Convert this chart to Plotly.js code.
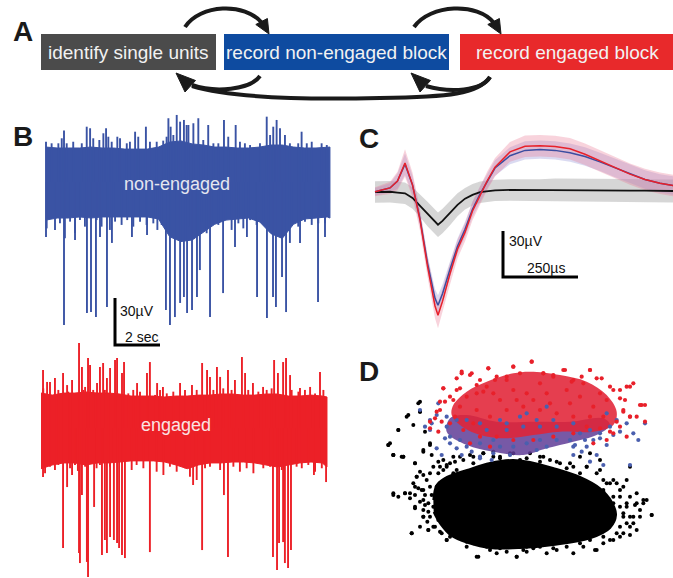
<!DOCTYPE html>
<html><head><meta charset="utf-8">
<script src="https://cdn.plot.ly/plotly-3.0.1.min.js"></script>
<style>html,body{margin:0;padding:0;background:#fff}#chart{width:673px;height:578px}</style>
</head><body><div id="chart"></div>
<script>
// ================= DATA =================
// Panel A: workflow steps
const steps = ["identify single units", "record non-engaged block", "record engaged block"];
const stepColors = ["#4b4b4b", "#0e4ba0", "#e8292b"];

// Panel B: envelope of the raw trace (time in s, voltage in µV)
const envT = [0,0.5,1,1.5,2,2.5,3,3.5,4,4.5,5,5.5,6,6.5,7,7.5,8,8.5,9,9.5,10,10.5,11,11.5,12,12.5];
const blueEndT = 12.62;
const redEndT = 12.71;
const blueTop = [22.3,21.7,21.7,21.7,22.3,21.7,21.7,21.0,21.0,21.0,22.3,25.5,26.2,24.3,23.6,22.3,22.3,21.7,21.7,22.3,23.6,23.6,22.3,21.7,21.7,22.3,22.3];
const blueBot = [-24.3,-23.0,-23.0,-22.3,-23.0,-22.3,-22.3,-22.3,-22.3,-22.3,-23.6,-35.0,-38.0,-37.0,-32.0,-27.0,-24.3,-23.6,-23.0,-25.5,-33.0,-36.0,-27.0,-23.6,-23.0,-22.3,-23.0];
const redTop = [22.3,21.0,22.3,22.3,23.0,22.3,22.3,21.7,20.4,20.4,20.4,19.8,20.4,20.4,21.0,21.0,21.7,21.7,21.0,21.0,21.7,21.7,20.4,20.4,21.0,20.4,19.8];
const redBot = [-26.0,-23.6,-22.3,-22.3,-23.6,-22.3,-22.3,-21.7,-21.0,-21.0,-21.0,-21.7,-23.6,-26.0,-23.6,-22.3,-22.3,-21.7,-21.7,-22.3,-23.6,-24.9,-23.6,-22.3,-21.7,-22.3,-24.9];

// Panel B: spikes (time s, peak µV)
const blueDownT = [0,0.8,1.29,1.82,2.0,2.22,2.4,2.71,2.93,3.82,4.49,5.33,5.51,5.73,5.96,6.13,6.27,6.49,6.71,6.84,7.29,7.87,8.4,8.93,9.38,9.82,10.09,10.22,10.49,10.67,10.84,11.29,12.09,12.4];
const blueDownV = [-35.1,-91.3,-32.6,-83.6,-83.0,-86.2,-35.1,-79.8,-38.9,-35.1,-33.8,-81.7,-91.3,-86.2,-77.2,-73.4,-83.6,-81.7,-73.4,-56.2,-86.2,-70.9,-41.5,-35.1,-73.4,-86.8,-73.4,-79.8,-60.6,-83.0,-38.9,-38.9,-76.6,-35.1];
const blueHairDownT = [0.03,0.40,0.62,0.84,1.07,1.29,1.51,1.73,2.25,2.47,2.84,3.07,3.36,3.61,3.88,4.18,4.47,4.77,4.95,5.14,6.33,6.62,6.92,7.14,7.36,7.66,7.96,8.25,8.55,8.77,9.07,9.36,9.66,9.88,10.62,10.92,11.21,11.51,11.81,12.10,12.40];
const blueHairDownV = [-29.6,-30.6,-26.4,-35.9,-25.3,-37.0,-24.3,-28.5,-24.3,-28.5,-30.6,-25.3,-27.4,-24.3,-28.5,-25.3,-27.4,-26.4,-30.6,-27.4,-28.5,-30.6,-25.3,-32.7,-24.3,-27.4,-24.3,-30.6,-26.4,-29.6,-24.3,-27.4,-24.3,-28.5,-28.5,-25.3,-28.5,-25.3,-27.4,-26.4,-26.4];
const blueUpT = [0.0,0.25,0.55,0.70,0.80,0.92,1.21,1.59,1.81,1.96,2.10,2.37,2.55,2.67,2.77,2.92,3.17,3.29,3.59,3.73,3.96,4.10,4.44,4.62,4.92,5.21,5.36,5.44,5.54,5.66,5.81,5.96,6.13,6.25,6.33,6.55,6.77,6.99,7.21,7.44,7.66,7.91,8.10,8.43,8.62,8.84,9.07,9.51,9.81,9.96,10.10,10.25,10.40,10.62,10.84,11.21,11.36,11.59,11.81,12.25,12.48];
const blueUpV = [25.7,24.7,24.7,27.9,32.8,24.7,25.7,24.7,35.3,34.3,27.9,26.8,31.1,34.3,28.9,25.7,28.9,27.9,24.7,25.7,32.1,28.9,35.3,25.7,25.7,26.4,28.9,40.7,35.3,30.0,42.8,38.5,39.6,36.4,36.4,37.5,40.7,26.8,36.4,24.7,24.7,39.6,28.9,36.4,25.7,24.7,23.6,24.7,41.7,30.0,35.3,39.6,34.3,30.0,24.7,24.7,32.1,24.7,25.7,24.7,23.6];
const redDownT = [0.09,0.98,1.16,1.38,1.64,1.69,1.73,1.82,2.04,2.09,2.36,2.71,2.84,2.93,3.07,3.24,3.38,3.47,3.6,3.73,4.84,6.76,7.16,8.13,8.31,10.31,10.49,10.58,10.76,10.84,10.98,11.11,12.13,12.67];
const redDownV = [-31.3,-76.6,-37.7,-30.0,-27.4,-79.8,-86.2,-42.8,-85.5,-95.1,-50.4,-81.1,-71.5,-79.8,-69.6,-71.5,-73.4,-76.6,-81.1,-83.0,-79.2,-36.4,-77.9,-42.8,-82.3,-82.3,-90.6,-73.4,-72.8,-86.2,-89.4,-77.9,-30.0,-34.5];
const redHairDownT = [0.18,0.40,0.62,0.77,1.29,1.51,1.96,2.47,2.62,3.07,4.03,4.25,4.55,5.14,5.44,5.73,6.03,6.40,6.62,6.92,7.29,7.51,7.96,8.55,8.84,9.14,9.44,9.88,10.18,10.70,11.36,11.59,11.88,12.18,12.48];
const redHairDownV = [-28.9,-24.7,-26.8,-23.6,-25.7,-23.6,-24.7,-25.7,-23.6,-24.7,-26.8,-23.6,-25.7,-27.9,-30.0,-24.7,-27.9,-25.7,-31.1,-33.2,-25.7,-24.7,-26.8,-24.7,-27.9,-25.7,-28.9,-25.7,-24.7,-26.8,-24.7,-25.7,-23.6,-27.9,-25.7];
const redUpT = [0.09,0.27,0.4,0.62,0.98,1.16,1.38,1.69,1.82,1.96,2.09,2.18,2.49,2.62,2.76,2.93,3.07,3.29,3.38,3.6,3.69,4.27,4.71,4.84,5.16,5.42,6.18,6.71,7.16,7.38,7.51,7.82,7.96,8.31,8.62,8.93,9.07,9.42,9.87,10.36,10.53,10.76,10.89,11.07,11.51,11.96,12.4];
const redUpV = [37.0,29.4,29.4,31.9,35.1,27.4,30.6,54.3,38.9,26.2,44.7,40.2,28.7,38.9,41.5,31.9,38.3,43.4,44.7,35.1,42.1,28.7,35.1,42.1,28.7,26.2,28.7,27.4,41.5,37.0,32.6,38.9,32.6,37.0,30.6,45.3,35.1,28.7,26.2,43.4,35.1,42.1,44.7,33.8,25.5,26.2,35.7];
const redHairUpT = [0.10,0.77,1.21,1.88,2.32,2.84,3.88,4.10,4.40,5.07,5.29,5.59,5.88,6.40,6.92,7.66,8.10,8.47,9.21,9.66,10.03,10.25,11.14,11.44,11.73,12.18,12.55];
const redHairUpV = [25.3,24.3,23.2,24.3,24.3,24.3,22.1,24.3,23.2,21.1,24.3,22.1,23.2,24.3,24.3,24.3,25.3,24.3,24.3,23.2,24.3,25.3,24.3,23.2,24.3,22.1,24.3];

// Panel C: mean waveforms (time µs, µV) and their spread
const wfT = [0,50,75,100,125,150,175,200,210,225,250,275,300,325,350,375,400,450,500,550,600,650,700,750,800,850,900,950,995];
const wfRed = [-0.5,2.0,6.5,18.3,4.0,-18.9,-49,-75,-81,-72,-54,-38,-27,-13,-3,7,15.5,25.5,29.2,29.5,29.0,27.5,24,19.5,15,11,7.5,5,3.5];
const wfBlue = [-0.5,2.0,6.5,17.5,4.0,-18,-47,-70,-74.5,-67,-51,-36,-25,-12,-2,7,15,23,26.5,27,26.5,25,22.5,19,15,11,7.5,5,3.5];
const wfBlack = [-0.7,-0.5,-1,-1.5,-4.5,-9.5,-15,-20,-22,-19.5,-14.4,-9,-5,-2.5,-0.8,0,0.4,0.7,0.7,0.7,0.7,0.7,0.6,0.5,0.4,0.3,0.2,0.1,0];
const sdRed = [3,4,6,9,8,7,7,8,8.5,8,7,6,6,6,6,6,6,6.5,7,7,7,7,7,7,7,7,7,7,7];
const sdBlue = [2.5,3,5,7,6,5,5,6,6.5,6,5,5,5,5,5,5,5,5.5,6,6,6,6,6,6,6,6,6,6,6];
const sdBlack = [7,7,7,7,7,7.5,8,8,8,8,8,7.5,7,7,7,7,7,7,7,7,7.5,7.5,7.5,7.5,7.5,7.5,7.5,7.5,7.5];

// Panel D: feature space clusters (arbitrary units)
const noiseCoreX = [280,290,321,381,450,519,570,639,720,780,815,828,810,750,639,540,450,385,335,300,281];
const noiseCoreY = [220,265,289,310,331,340,334,316,289,255,215,175,136,105,85,76,76,91,112,150,184];
const noiseX = [145,160,190,175,205,240,240,215,265,160,195,210,250,230,270,300,330,360,390,430,460,520,560,610,650,700,740,780,820,850,870,890,910,935,900,870,850,820,770,700,620,530,500,410,380,320,280,250,240,880,860,890,470,560,440,330,290,250,225,870,840,800,255,265,285,245,225,275,300,340,400,480,540,600,680,720,790,820,850,860,840,790,730,650,580,480,400,330,300,262,
  150,160,190,225,250,270,240,250,230,220,235,225,240,225,250,270,285,305,215,160,175,195,210,415,530,260,270,255,265,280,250,295,280,320,350,310,370,400,430,340,460,480,510,320,380,450,510,550,265,295,
  690,720,740,770,790,810,830,840,860,870,890,910,920,935,900,880,860,840,820,840,870,830,810,790,765,720,680,640,600,560,790,820,815,800,780,750,850,885,660,630,600,570,780,750,
  175,145,160,185,225,200,220,240,235,255,250,270,275,295,320,310,345];
const noiseY = [385,355,350,430,475,515,485,120,130,235,240,225,250,290,300,320,330,350,355,360,350,360,345,350,335,320,320,310,280,260,230,210,220,175,170,140,120,100,70,60,60,50,65,50,80,100,140,170,140,150,200,130,60,65,80,280,260,220,200,170,230,270,205,185,200,250,260,235,270,300,330,345,340,335,315,300,250,210,180,150,110,90,80,70,75,75,90,110,125,155,
  390,355,350,330,370,385,305,295,290,270,255,235,215,195,190,170,140,120,120,240,230,240,240,50,50,280,260,235,210,200,170,300,320,325,310,340,340,350,360,350,365,350,360,100,95,70,80,70,130,160,
  330,350,320,300,280,270,270,250,280,320,240,210,220,175,190,170,210,200,160,140,115,120,100,110,70,90,80,75,80,80,245,230,190,170,130,100,170,205,330,340,350,360,340,360,
  430,385,355,350,330,470,445,485,510,425,365,390,355,335,320,310,335];
const unitRedCoreX = [340,380,440,520,570,660,740,800,830,820,760,660,580,500,420,360,335,340];
const unitRedCoreY = [505,545,575,600,605,595,575,535,485,445,425,425,415,405,415,445,475,505];
const unitBlueCoreX = [320,380,460,550,620,700,770,810,790,690,590,470,380,330,320];
const unitBlueCoreY = [425,385,365,355,375,395,415,445,465,455,455,455,475,465,425];
const engagedX = [445,520,575,610,670,750,770,820,860,880,905,915,870,850,840,820,300,290,310,350,365,395,420,440,470,500,540,600,640,700,730,780,800,330,345,370,270,380,410,460,520,560,620,680,720,760,790,740,700,640,580,520,470,420,400,450,500,550,600,650,700,750,480,530,580,630,690,410,360,340,860,800,760,450,390,
  310,350,365,390,445,465,500,520,300,315,330,360,410,430,285,305,295,270,610,675,750,785,810,840,870,900,915,870,890,850,830,810,780,840,855,725,695,640,575];
const engagedY = [615,620,635,600,610,610,585,550,560,570,505,455,470,490,440,420,515,485,555,550,600,600,580,560,590,580,600,570,590,580,570,540,520,450,470,430,455,530,540,540,550,540,540,550,530,500,470,440,420,410,400,400,410,410,450,470,490,500,490,480,470,470,520,520,520,510,510,490,500,520,410,400,390,380,390,
  555,585,605,595,615,580,590,620,490,515,530,555,565,545,465,455,425,435,600,610,610,585,560,550,560,505,505,470,470,485,455,425,435,525,520,590,575,595,635];
const nonEngX = [320,350,330,360,380,420,460,480,520,560,600,620,650,690,720,750,780,810,830,440,500,550,600,650,700,480,540,590,640,420,380,460,510,590,700,735,800,620,560,500,240,270,860,880,420,
  295,290,275,315,330,350,365,395,420,455,290,305,255,270,320,800,780,760,740,725,705,820,770,700,750,790,870,915,895,840];
const nonEngY = [470,460,410,400,380,390,400,380,380,390,400,380,400,400,420,430,420,440,460,430,430,440,440,440,450,460,470,460,460,450,460,360,355,370,380,400,480,500,480,450,490,430,450,420,350,
  510,475,450,405,390,375,355,365,345,340,375,355,440,460,440,385,405,400,380,365,385,415,355,355,335,325,325,450,400,425];

// ================= BUILD =================
const W = 673, H = 578;
const FONT = "Liberation Sans, Arial, Helvetica, sans-serif";
const dx = (a, b) => [a / W, b / W];
const dy = (top, bot) => [1 - bot / H, 1 - top / H];
const pxX = x => x / W, pxY = y => 1 - y / H;

function band(T, top, bot) {
  return { x: T.concat(T.slice().reverse()), y: top.concat(bot.slice().reverse()) };
}
function spikes(ts, vs) {
  const x = [], y = [];
  ts.forEach((t, i) => { x.push(t, t, null); y.push(0, vs[i], null); });
  return { x, y };
}
const BLUE = "#3a53a4", RED = "#ec2027";
const traces = [];
traces.push({ x: [0], y: [0], xaxis: "x", yaxis: "y", mode: "markers", marker: { opacity: 0 }, hoverinfo: "skip" });

function addTrace(T, top, bot, lists, ax, ay, color) {
  const b = band(T, top, bot);
  traces.push({ x: b.x, y: b.y, xaxis: ax, yaxis: ay, mode: "lines", fill: "toself", fillcolor: color, line: { color: color, width: 1 } });
  lists.forEach(l => {
    const s = spikes(l[0], l[1]);
    traces.push({ x: s.x, y: s.y, xaxis: ax, yaxis: ay, mode: "lines", line: { color: color, width: l[2] } });
  });
}
// Panel B
addTrace(envT.concat([blueEndT]), blueTop, blueBot,
  [[blueHairDownT, blueHairDownV, 1.9], [blueUpT, blueUpV, 1.9], [blueDownT, blueDownV, 1.9]], "x2", "y2", BLUE);
addTrace(envT.concat([redEndT]), redTop, redBot,
  [[redHairDownT, redHairDownV, 1.9], [redHairUpT, redHairUpV, 1.9], [redUpT, redUpV, 1.9], [redDownT, redDownV, 1.9]], "x3", "y3", RED);

// Panel C
function sdBand(m, sd, sign) { return m.map((v, i) => v + sign * sd[i]); }
const gB = band(wfT, sdBand(wfBlack, sdBlack, 1), sdBand(wfBlack, sdBlack, -1));
traces.push({ x: gB.x, y: gB.y, xaxis: "x4", yaxis: "y4", mode: "lines", fill: "toself", fillcolor: "rgba(200,200,200,0.75)", line: { width: 0 } });
const lB = band(wfT, sdBand(wfBlue, sdBlue, 1), sdBand(wfBlue, sdBlue, -1));
traces.push({ x: lB.x, y: lB.y, xaxis: "x4", yaxis: "y4", mode: "lines", fill: "toself", fillcolor: "rgba(150,150,215,0.35)", line: { width: 0 } });
const pB = band(wfT, sdBand(wfRed, sdRed, 1), sdBand(wfRed, sdRed, -1));
traces.push({ x: pB.x, y: pB.y, xaxis: "x4", yaxis: "y4", mode: "lines", fill: "toself", fillcolor: "rgba(235,120,150,0.33)", line: { width: 0 } });
traces.push({ x: wfT, y: wfBlack, xaxis: "x4", yaxis: "y4", mode: "lines", line: { color: "#111", width: 1.8 } });
traces.push({ x: wfT, y: wfBlue, xaxis: "x4", yaxis: "y4", mode: "lines", line: { color: "#3b4da0", width: 1.5 } });
traces.push({ x: wfT, y: wfRed, xaxis: "x4", yaxis: "y4", mode: "lines", line: { color: "#e8202a", width: 1.5 } });

// Panel D
traces.push({ x: noiseCoreX, y: noiseCoreY, xaxis: "x5", yaxis: "y5", mode: "lines", fill: "toself", fillcolor: "#000", line: { color: "#000", width: 2, shape: "spline" } });
traces.push({ x: noiseX, y: noiseY, xaxis: "x5", yaxis: "y5", mode: "markers", marker: { color: "#000", size: 4 } });
traces.push({ x: unitBlueCoreX, y: unitBlueCoreY, xaxis: "x5", yaxis: "y5", mode: "lines", fill: "toself", fillcolor: "rgba(95,60,150,0.85)", line: { width: 0, shape: "spline" } });
traces.push({ x: unitRedCoreX, y: unitRedCoreY, xaxis: "x5", yaxis: "y5", mode: "lines", fill: "toself", fillcolor: "rgba(225,35,55,0.88)", line: { width: 0, shape: "spline" } });
traces.push({ x: nonEngX, y: nonEngY, xaxis: "x5", yaxis: "y5", mode: "markers", marker: { color: "#4a5fae", size: 4.2 } });
traces.push({ x: engagedX, y: engagedY, xaxis: "x5", yaxis: "y5", mode: "markers", marker: { color: "#e8202a", size: 4.2 } });

// ================= LAYOUT =================
const hid = { visible: false, fixedrange: true };
const layout = {
  width: W, height: H, margin: { l: 0, r: 0, t: 0, b: 0 },
  paper_bgcolor: "#fff", plot_bgcolor: "rgba(0,0,0,0)", showlegend: false,
  font: { family: FONT },
  xaxis: Object.assign({ domain: [0, 1], range: [0, W], anchor: "y" }, hid),
  yaxis: Object.assign({ domain: [0, 1], range: [H, 0], anchor: "x" }, hid),
  xaxis2: Object.assign({ domain: dx(40, 333), range: [(40 - 46) / 22.5, (333 - 46) / 22.5], anchor: "y2" }, hid),
  yaxis2: Object.assign({ domain: dy(105, 350), range: [(182 - 350) / 1.5667, (182 - 105) / 1.5667], anchor: "x2" }, hid),
  xaxis3: Object.assign({ domain: dx(36, 333), range: [(36 - 41) / 22.5, (333 - 41) / 22.5], anchor: "y3" }, hid),
  yaxis3: Object.assign({ domain: dy(338, 578), range: [(428 - 578) / 1.5667, (428 - 338) / 1.5667], anchor: "x3" }, hid),
  xaxis4: Object.assign({ domain: dx(370, 673), range: [(370 - 375) / 0.3, (673 - 375) / 0.3], anchor: "y4" }, hid),
  yaxis4: Object.assign({ domain: dy(115, 345), range: [(191 - 345) / 1.533, (191 - 115) / 1.533], anchor: "x4" }, hid),
  xaxis5: Object.assign({ domain: dx(340, 673), range: [0, 999], anchor: "y5" }, hid),
  yaxis5: Object.assign({ domain: dy(340, 578), range: [-14, 700], anchor: "x5" }, hid),
  shapes: [], annotations: []
};
function label(x, y, text, size, color, xanchor, bold) {
  layout.annotations.push({ xref: "paper", yref: "paper", x: pxX(x), y: pxY(y), text: bold ? "<b>" + text + "</b>" : text,
    showarrow: false, xanchor: xanchor, yanchor: "middle", font: { size: size, color: color, family: FONT } });
}

// Panel A boxes + arrows
const boxes = [[41, 216], [224, 449], [460, 673]];
boxes.forEach((b, i) => {
  layout.shapes.push({ type: "rect", xref: "x", yref: "y", x0: b[0], x1: b[1], y0: 34, y1: 70, fillcolor: stepColors[i], line: { width: 0 }, layer: "below" });
  label((b[0] + b[1]) / 2 + (i === 2 ? 1 : 0), 52, steps[i], 19, "#f2f2f2", "center", false);
});
const arrowLine = { color: "#1a1a1a", width: 4 };
[
  "M 185 27 C 200 4, 245 2, 262 23",
  "M 414 27 C 430 4, 478 2, 494 23",
  "M 260 76 C 250 90, 215 93, 192 85",
  "M 490 77 C 478 94, 450 97, 380 98 C 300 100, 232 98, 192 86",
  "M 490 77 C 482 91, 450 93, 426 86"
].forEach(p => layout.shapes.push({ type: "path", xref: "x", yref: "y", path: p, line: arrowLine }));
[
  "M 269 34 L 267.4 18.5 L 255.8 24.5 Z",
  "M 501 34 L 499.4 18.5 L 487.8 24.5 Z",
  "M 176 73 L 195.5 80.5 L 185 92 Z",
  "M 411 73 L 430.5 80.5 L 420 92 Z"
].forEach(p => layout.shapes.push({ type: "path", xref: "x", yref: "y", path: p, fillcolor: "#1a1a1a", line: { color: "#1a1a1a", width: 1 } }));

// Panel letters
[["A", 11, 31], ["B", 11, 137], ["C", 357, 138], ["D", 357, 371]].forEach(l => label(l[1], l[2], l[0], 28, "#1a1a1a", "left", true));

// Panel B labels and scale bar
label(177, 184, "non-engaged", 18, "#e4e6f0", "center", false);
label(176, 425, "engaged", 18, "#fbe3e3", "center", false);
const sbT = (115 - 46) / 22.5;
layout.shapes.push({ type: "path", xref: "x2", yref: "y2", path: `M ${sbT} -74 L ${sbT} -104 L ${sbT + 2} -104`, line: { color: "#000", width: 3 } });
label(118, 311, "30µV", 14, "#111", "left", false);
label(123, 337, "2 sec", 14, "#111", "left", false);

// Panel C scale bar
const cbT = (503 - 375) / 0.3;
layout.shapes.push({ type: "path", xref: "x4", yref: "y4", path: `M ${cbT} -26.1 L ${cbT} -56.1 L ${cbT + 250} -56.1`, line: { color: "#000", width: 3 } });
label(507, 241, "30µV", 14, "#111", "left", false);
label(525, 268, "250µs", 14, "#111", "left", false);

Plotly.newPlot("chart", traces, layout, { staticPlot: true, displayModeBar: false });
</script></body></html>
